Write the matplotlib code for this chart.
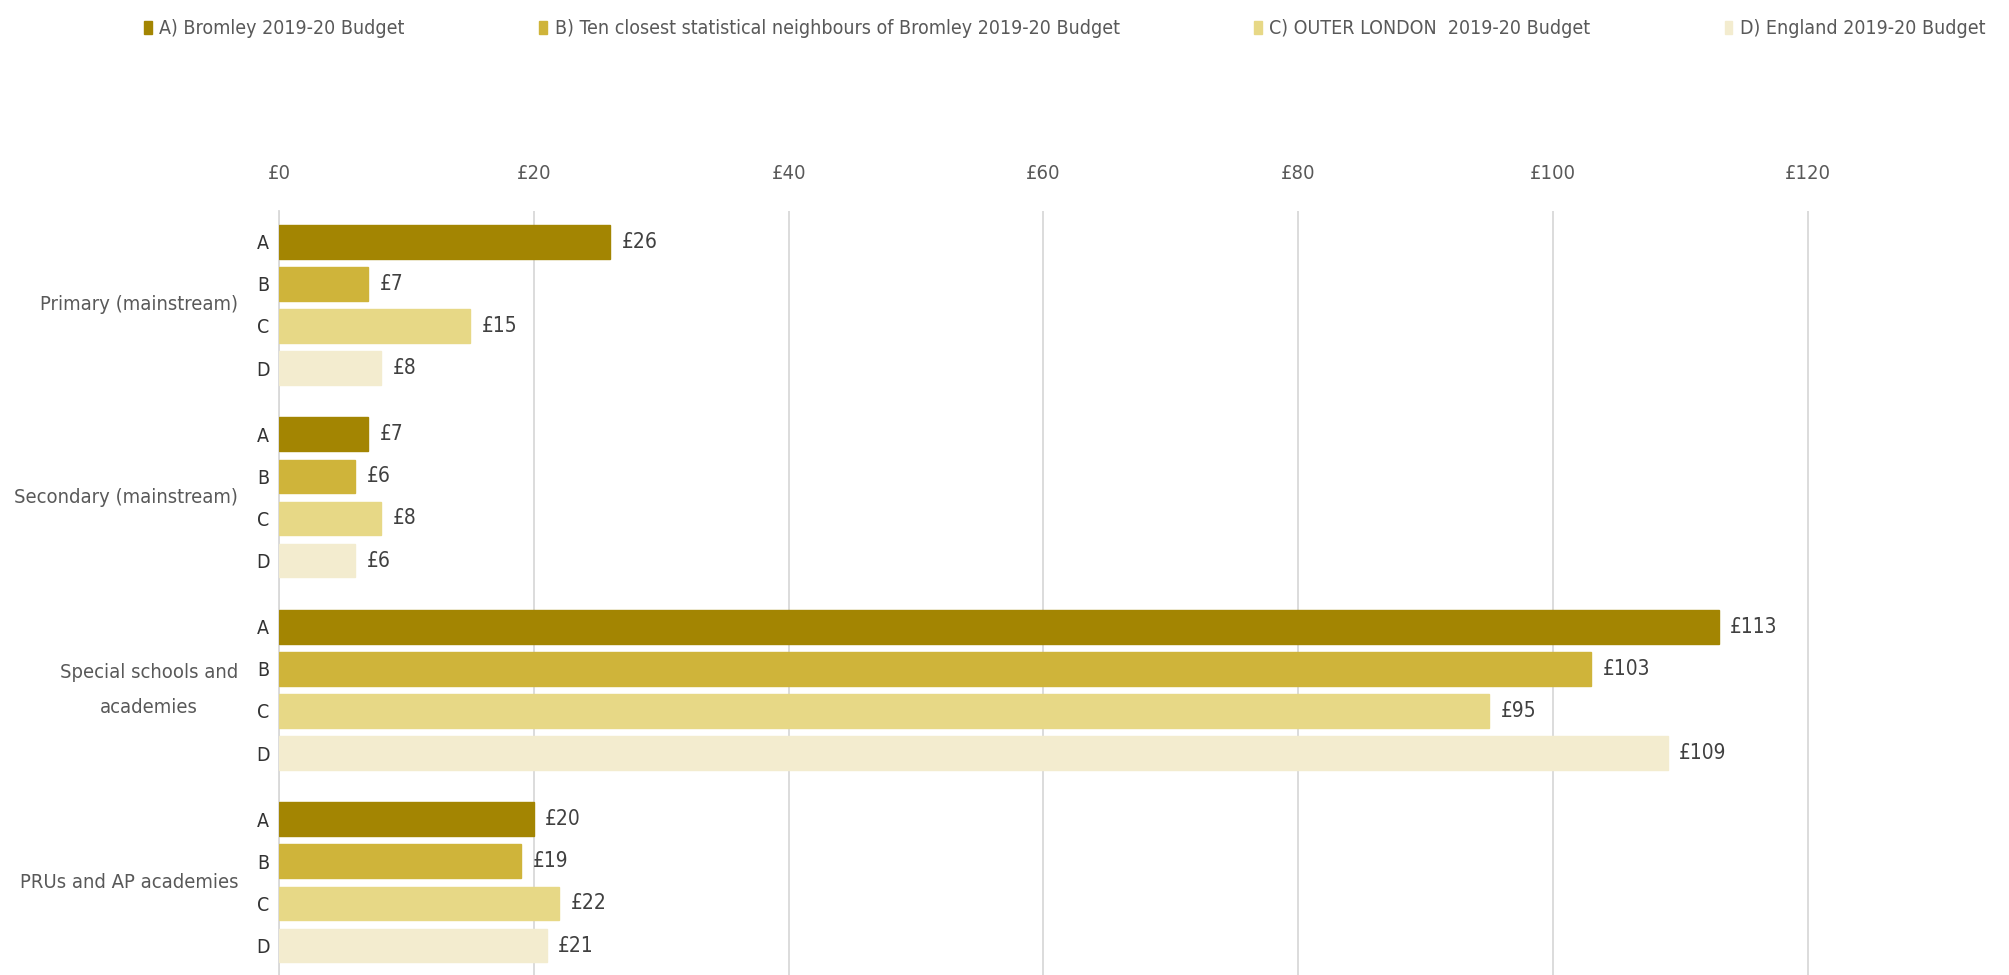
import matplotlib
matplotlib.use("Agg")
from matplotlib import pyplot as plt
from matplotlib.patches import Patch
from matplotlib.transforms import blended_transform_factory
import numpy as np

plt.rcParams['font.family'] = ['DejaVu Sans']
plt.rcParams['font.stretch'] = 'condensed'

#---------------------------------------------------------------------------------------------
categories = ["Primary (mainstream)", "Secondary (mainstream)",
              "Special schools and\nacademies", "PRUs and AP academies"]
series = ["A) Bromley 2019-20 Budget",
          "B) Ten closest statistical neighbours of Bromley 2019-20 Budget",
          "C) OUTER LONDON  2019-20 Budget",
          "D) England 2019-20 Budget"]
letters = ["A", "B", "C", "D"]
bromley = [26, 7, 113, 20]
neighbours = [7, 6, 103, 19]
outer_london = [15, 8, 95, 22]
england = [8, 6, 109, 21]
xticks = [0, 20, 40, 60, 80, 100, 120]

colores = ["#A38502", "#CFB43A", "#E7D886", "#F3ECCF"]
gris = "#595959"

valores = [bromley, neighbours, outer_london, england]
paso = 4.57  # distancia entre grupos

fig = plt.figure(figsize=(20.09, 9.75), dpi=100)
ax = fig.add_axes([0.1389, 0.0, 0.8561, 0.784])

posiciones = []
etiquetas = []
for g in range(len(categories)):
  for i in range(4):
    y = g * paso + i
    v = valores[i][g]
    ax.barh(y, v, height=0.8, color=colores[i], edgecolor=colores[i], zorder=3)
    ax.text(v + 0.9, y, "£%d" % v, va='center', ha='left', fontsize=15, color="#404040")
    posiciones.append(y)
    etiquetas.append(letters[i])

ax.set_yticks(posiciones)
ax.set_yticklabels(etiquetas)
ax.set_ylim(3 * paso + 3 + 0.7, -0.74)
ax.set_xlim(0, 135)
ax.set_xticks(xticks)
ax.set_xticklabels(["£%d" % t for t in xticks])
ax.xaxis.tick_top()
ax.tick_params(axis='x', length=0, pad=20, labelsize=14.5, labelcolor=gris)
ax.tick_params(axis='y', length=0, pad=7, labelsize=14, labelcolor="#333333")
ax.grid(axis='x', color="#D9D9D9", linewidth=1.3, zorder=0)
for lado in ["top", "right", "bottom"]:
  ax.spines[lado].set_visible(False)
ax.spines["left"].set_color("#D9D9D9")
ax.spines["left"].set_linewidth(1.3)

# nombres de los grupos a la izquierda
trans = blended_transform_factory(fig.transFigure, ax.transData)
for g, nombre in enumerate(categories):
  fig.text(238 / 2009, g * paso + 1.5, nombre, transform=trans, ha='right', va='center',
           multialignment='center', linespacing=2.1, fontsize=14.5, color=gris)

handles = [Patch(facecolor=c, edgecolor=c) for c in colores]
fig.legend(handles, series, loc='upper center', bbox_to_anchor=(0.53, 0.998), ncol=4,
           frameon=False, fontsize=14, labelcolor=gris, handlelength=0.4, handleheight=0.65,
           handletextpad=0.4, columnspacing=6.9)

plt.savefig("out.png", dpi=100)
